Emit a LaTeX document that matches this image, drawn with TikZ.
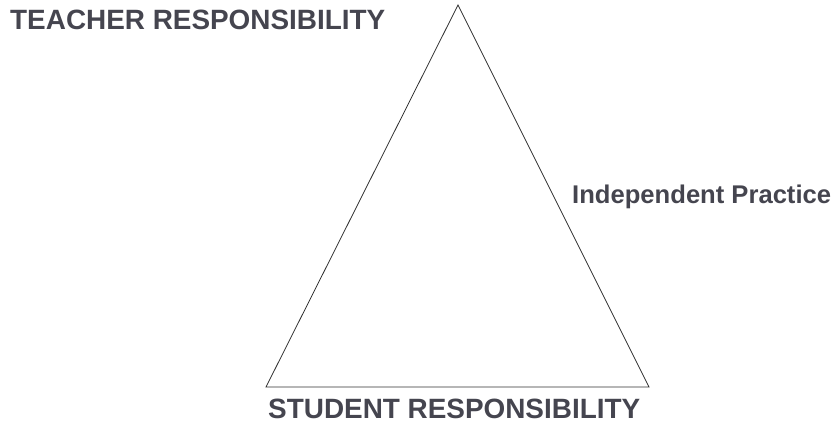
\documentclass[tikz,border=0pt]{standalone}
\usepackage{fontspec}
\setmainfont{Liberation Sans}
\definecolor{txt}{HTML}{45454F}
\definecolor{edge}{HTML}{303030}
\begin{document}
\begin{tikzpicture}[x=1pt,y=-1pt,
  big/.style={font=\fontsize{27.9}{30}\selectfont\bfseries, text=txt, inner sep=0pt, anchor=base west},
  small/.style={font=\fontsize{25.6}{28}\selectfont\bfseries, text=txt, inner sep=0pt, anchor=base west},
  tri/.style={draw=edge, line width=0.8pt, line join=miter}]
\useasboundingbox (0,0) rectangle (837,423);
\coordinate (apex) at (458,5);
\coordinate (bl) at (266,387);
\coordinate (br) at (649,387);
\draw[tri] (apex) -- (bl) -- (br) -- cycle;
\node[big] (teacher) at (10,29) {TEACHER RESPONSIBILITY};
\node[small] (indep) at (572,203) {Independent Practice};
\node[big] (student) at (268,418) {STUDENT RESPONSIBILITY};
\end{tikzpicture}
\end{document}
